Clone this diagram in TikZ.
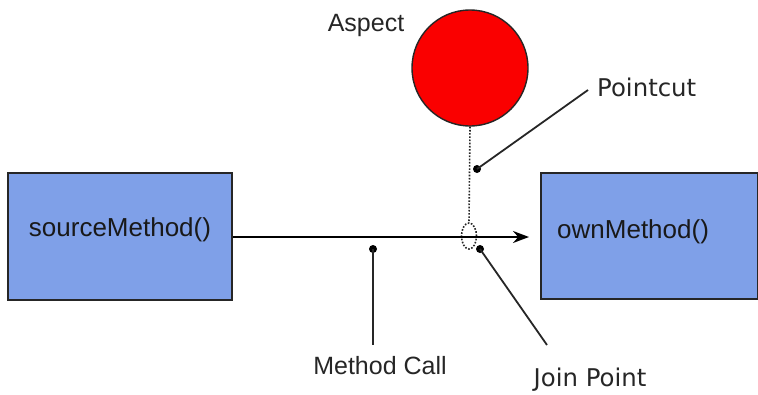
\documentclass[tikz,border=0pt]{standalone}
\usepackage{fontspec}
\setmainfont{Liberation Sans}
\newfontfamily\dejavu{DejaVu Sans}
\usetikzlibrary{arrows.meta,shapes.geometric}
\definecolor{boxblue}{RGB}{127,160,232}
\definecolor{aspectred}{RGB}{250,0,0}
\begin{document}
\begin{tikzpicture}[x=1pt,y=-1pt,
  methodbox/.style={draw=black!85, line width=2pt, fill=boxblue, inner sep=0pt},
  boxtext/.style={font=\fontsize{26}{30}\selectfont, text=black!90, inner sep=0pt},
  plaintext/.style={font=\fontsize{25}{30}\selectfont, text=black!85, inner sep=0pt},
  djtext/.style={font=\dejavu\fontsize{24.4}{30}\selectfont, text=black!85, inner sep=0pt},
  leader/.style={draw=black!85, line width=1.8pt},
  dotline/.style={draw=black!85, line width=1.6pt, dash pattern=on 1.6pt off 1.6pt},
  dotmark/.style={fill=black, radius=4pt}]
\path[use as bounding box] (0,0) rectangle (758,394);
% boxes
\node[methodbox, minimum width=224pt, minimum height=127pt] (src) at (120,236.5) {};
\node[boxtext] (srctext) at (120,230) {sourceMethod()};
\node[methodbox, minimum width=217pt, minimum height=126pt] (own) at (649.5,236) {};
\node[boxtext, anchor=west] (owntext) at (557,232) {ownMethod()};
% aspect
\node[circle, draw=black!85, line width=1.4pt, fill=aspectred, minimum size=116pt, inner sep=0pt] (asp) at (470,68) {};
\node[plaintext] (asptext) at (366,25) {Aspect};
% join point ellipse
\node[ellipse, dotline, minimum width=15pt, minimum height=26pt, inner sep=0pt] (jp) at (469,236) {};
\draw[dotline] (asp.south) -- (jp.north);
% method call arrow
\draw[line width=2pt, -{Stealth[length=16pt,width=12pt]}, shorten >=11pt] (src.east |- 0,237) coordinate (arrstart) -- (own.west |- 0,237) coordinate (arrend);
% Pointcut
\coordinate (pcdot) at (477,169);
\coordinate (pcend) at (588,90);
\node[djtext, anchor=west] (pctext) at (597,87) {Pointcut};
\fill[dotmark] (pcdot) circle;
\draw[leader] (pcdot) -- (pcend);
% Method Call
\coordinate (mcdot) at (373,249);
\coordinate (mcend) at (373,345);
\node[plaintext] (mctext) at (380,366) {Method Call};
\fill[dotmark] (mcdot) circle;
\draw[leader] (mcdot) -- (mcend);
% Join Point
\coordinate (jpdot) at (480,249);
\coordinate (jpend) at (547,345);
\node[djtext] (jptext) at (590,380) {Join Point};
\fill[dotmark] (jpdot) circle;
\draw[leader] (jpdot) -- (jpend);
\end{tikzpicture}
\end{document}
